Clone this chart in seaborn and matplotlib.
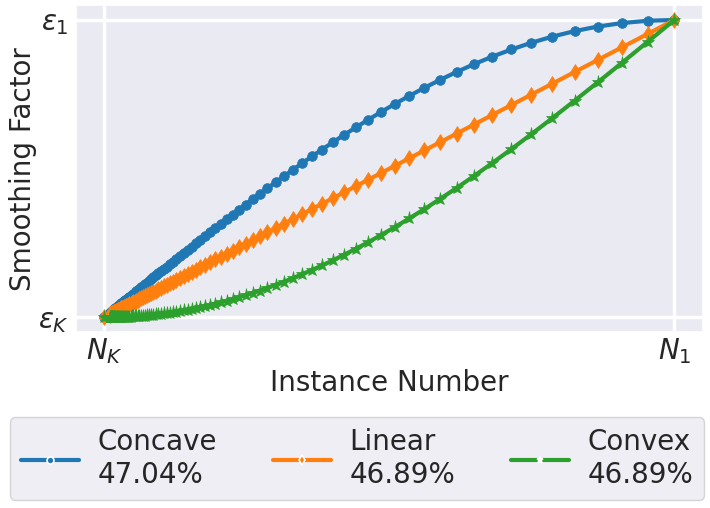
import matplotlib
matplotlib.use("Agg")
import matplotlib.pyplot as plt
from matplotlib.lines import Line2D
import pandas as pd
import seaborn as sns

# instance number, normalised: 0 -> N_K, 1 -> N_1
instance = [1.0, 0.953, 0.9082, 0.8655, 0.8248, 0.7861, 0.7491, 0.7139, 0.6804, 0.6484,
            0.6179, 0.5889, 0.5612, 0.5348, 0.5097, 0.4857, 0.4629, 0.4411, 0.4204, 0.4006,
            0.3818, 0.3639, 0.3468, 0.3305, 0.3149, 0.3001, 0.286, 0.2726, 0.2598, 0.2476,
            0.2359, 0.2248, 0.2143, 0.2042, 0.1946, 0.1855, 0.1767, 0.1684, 0.1605, 0.153,
            0.1458, 0.1389, 0.1324, 0.1262, 0.1202, 0.1146, 0.1092, 0.1041, 0.0992, 0.0945,
            0.0901, 0.0858, 0.0818, 0.078, 0.0743, 0.0708, 0.0675, 0.0643, 0.0613, 0.0584,
            0.0557, 0.053, 0.0506, 0.0482, 0.0459, 0.0438, 0.0417, 0.0398, 0.0379, 0.0361,
            0.0344, 0.0328, 0.0312, 0.0298, 0.0284, 0.027, 0.0258, 0.0245, 0.0234, 0.0223,
            0.0212, 0.0203, 0.0193, 0.0184, 0.0175, 0.0167, 0.0159, 0.0152, 0.0145, 0.0138,
            0.0131, 0.0125, 0.0119, 0.0114, 0.0108, 0.0103, 0.0098, 0.0094, 0.0089, 0.0]

# smoothing factor, normalised: 0 -> eps_K, 1 -> eps_1
concave = [1.0, 0.9973, 0.9896, 0.9778, 0.9624, 0.9441, 0.9234, 0.9007, 0.8766, 0.8513,
           0.8252, 0.7986, 0.7717, 0.7447, 0.7178, 0.691, 0.6647, 0.6388, 0.6134, 0.5886,
           0.5644, 0.541, 0.5183, 0.4962, 0.4745, 0.4541, 0.4343, 0.4152, 0.3969, 0.3792,
           0.3622, 0.3458, 0.3303, 0.3153, 0.301, 0.2873, 0.274, 0.2614, 0.2494, 0.238,
           0.227, 0.2165, 0.2065, 0.1969, 0.1877, 0.179, 0.1707, 0.1628, 0.1552, 0.1479,
           0.141, 0.1344, 0.1281, 0.1222, 0.1164, 0.111, 0.1058, 0.1008, 0.0962, 0.0916,
           0.0874, 0.0832, 0.0794, 0.0756, 0.072, 0.0687, 0.0655, 0.0625, 0.0595, 0.0567,
           0.054, 0.0515, 0.049, 0.0468, 0.0446, 0.0424, 0.0405, 0.0385, 0.0368, 0.035,
           0.0333, 0.0319, 0.0303, 0.0289, 0.0275, 0.0262, 0.025, 0.0239, 0.0228, 0.0217,
           0.0206, 0.0196, 0.0187, 0.0179, 0.017, 0.0162, 0.0154, 0.0148, 0.014, 0.0]

linear = [1.0, 0.953, 0.9082, 0.8655, 0.8248, 0.7861, 0.7491, 0.7139, 0.6804, 0.6484,
          0.6179, 0.5889, 0.5612, 0.5348, 0.5097, 0.4857, 0.4629, 0.4411, 0.4204, 0.4006,
          0.3818, 0.3639, 0.3468, 0.3305, 0.3149, 0.3001, 0.286, 0.2726, 0.2598, 0.2476,
          0.2359, 0.2248, 0.2143, 0.2042, 0.1946, 0.1855, 0.1767, 0.1684, 0.1605, 0.153,
          0.1458, 0.1389, 0.1324, 0.1262, 0.1202, 0.1146, 0.1092, 0.1041, 0.0992, 0.0945,
          0.0901, 0.0858, 0.0818, 0.078, 0.0743, 0.0708, 0.0675, 0.0643, 0.0613, 0.0584,
          0.0557, 0.053, 0.0506, 0.0482, 0.0459, 0.0438, 0.0417, 0.0398, 0.0379, 0.0361,
          0.0344, 0.0328, 0.0312, 0.0298, 0.0284, 0.027, 0.0258, 0.0245, 0.0234, 0.0223,
          0.0212, 0.0203, 0.0193, 0.0184, 0.0175, 0.0167, 0.0159, 0.0152, 0.0145, 0.0138,
          0.0131, 0.0125, 0.0119, 0.0114, 0.0108, 0.0103, 0.0098, 0.0094, 0.0089, 0.0]

convex = [1.0, 0.9263, 0.8563, 0.7903, 0.7283, 0.6703, 0.616, 0.5656, 0.5188, 0.4753,
          0.4352, 0.3982, 0.364, 0.3326, 0.3037, 0.2772, 0.2529, 0.2306, 0.2103, 0.1916,
          0.1745, 0.159, 0.1448, 0.1318, 0.1199, 0.1091, 0.0992, 0.0903, 0.0821, 0.0747,
          0.0679, 0.0617, 0.0561, 0.051, 0.0464, 0.0422, 0.0383, 0.0348, 0.0316, 0.0287,
          0.0261, 0.0237, 0.0216, 0.0196, 0.0178, 0.0162, 0.0147, 0.0133, 0.0121, 0.011,
          0.01, 0.0091, 0.0083, 0.0075, 0.0068, 0.0062, 0.0056, 0.0051, 0.0046, 0.0042,
          0.0038, 0.0035, 0.0032, 0.0029, 0.0026, 0.0024, 0.0021, 0.002, 0.0018, 0.0016,
          0.0015, 0.0013, 0.0012, 0.0011, 0.001, 0.0009, 0.0008, 0.0007, 0.0007, 0.0006,
          0.0006, 0.0005, 0.0005, 0.0004, 0.0004, 0.0003, 0.0003, 0.0003, 0.0003, 0.0002,
          0.0002, 0.0002, 0.0002, 0.0002, 0.0001, 0.0001, 0.0001, 0.0001, 0.0001, 0.0]

names = ["Concave", "Linear", "Convex"]
scores = ["47.04%", "46.89%", "46.89%"]
markers = ["o", "d", "*"]
x_ticklabels = ["$N_K$", "$N_1$"]
y_ticklabels = [r"$\varepsilon_K$", r"$\varepsilon_1$"]

sns.set_theme(style="darkgrid")
colors = sns.color_palette("tab10", 3)

fig = plt.figure(figsize=(7.1, 5.08), dpi=100)
ax = fig.add_axes([0.107, 0.346, 0.883, 0.644])

handles = []
for ys, name, score, m, c in zip([concave, linear, convex], names, scores, markers, colors):
    df = pd.DataFrame({"x": instance, "y": ys})
    ms = 9.5 if m == "*" else (8.5 if m == "d" else 7)
    sns.lineplot(data=df, x="x", y="y", ax=ax, color=c, lw=3, marker=m,
                 markersize=ms, markeredgecolor=c, markeredgewidth=0.5)
    handles.append(Line2D([], [], color=c, lw=3, marker=m, markersize=5,
                          markerfacecolor=c, markeredgecolor="white",
                          markeredgewidth=1.2, label=f"{name}\n{score}"))

ax.set_xticks([0, 1])
ax.set_xticklabels(x_ticklabels, fontsize=20)
ax.set_yticks([0, 1])
ax.set_yticklabels(y_ticklabels, fontsize=20)
ax.grid(True, color="white", lw=2.5)
ax.tick_params(axis="x", length=0, pad=3)
ax.tick_params(axis="y", length=0, pad=5)
ax.set_xlabel("Instance Number", fontsize=20, labelpad=2)
ax.set_ylabel("Smoothing Factor", fontsize=20, labelpad=1)

fig.legend(handles=handles, loc="lower left", ncol=3, mode="expand",
           bbox_to_anchor=(0.014, 0.016, 0.978, 0.158), fontsize=20,
           handlelength=2.1, handletextpad=0.65, borderaxespad=0, frameon=True)

fig.savefig("out.png", dpi=100)
